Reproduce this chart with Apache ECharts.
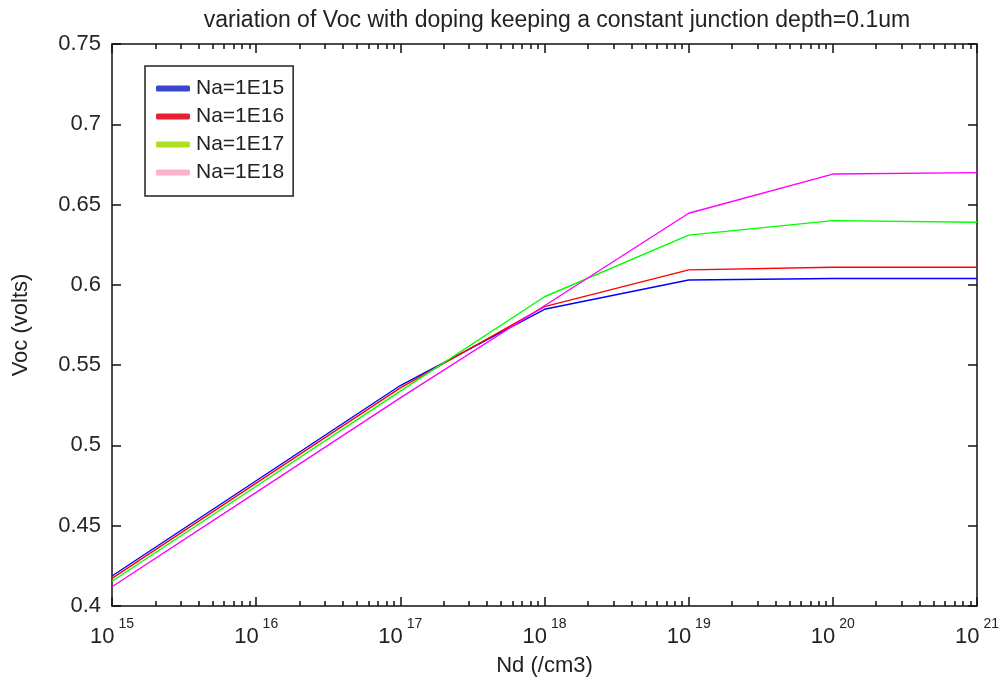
<!DOCTYPE html>
<html>
<head>
<meta charset="utf-8">
<script src="https://cdn.jsdelivr.net/npm/echarts@6/dist/echarts.min.js"></script>
<style>
html,body{margin:0;padding:0;background:#fff;}
#chart{width:1005px;height:679px;}
</style>
</head>
<body>
<div id="chart"></div>
<script>
// ---- data ----
const nd = [1e15, 1e16, 1e17, 1e18, 1e19, 1e20, 1e21];
const na1e15 = [0.4187, 0.4780, 0.5373, 0.5848, 0.6030, 0.6040, 0.6040];
const na1e16 = [0.4172, 0.4765, 0.5358, 0.5864, 0.6093, 0.6110, 0.6110];
const na1e17 = [0.4154, 0.4746, 0.5338, 0.5926, 0.6310, 0.6400, 0.6390];
const na1e18 = [0.4120, 0.4708, 0.5296, 0.5870, 0.6446, 0.6690, 0.6699];
const seriesNames = ['Na=1E15', 'Na=1E16', 'Na=1E17', 'Na=1E18'];
const xMajorTicks = [1e15, 1e16, 1e17, 1e18, 1e19, 1e20, 1e21];
const xTickExponents = ['15', '16', '17', '18', '19', '20', '21'];
const titleText = 'variation of Voc with doping keeping a constant junction depth=0.1um';
const xName = 'Nd (/cm3)';
const yName = 'Voc (volts)';

// minor log ticks (2..9 x 10^k)
const xMinorTicks = [];
for (let k = 15; k < 21; k++) for (let m = 2; m <= 9; m++) xMinorTicks.push(m * Math.pow(10, k));
// tick positions nudged inside the extent so the 1e21 end value is not dropped by rounding
const xMajorTickPos = xMajorTicks.map((v, i) => i === xMajorTicks.length - 1 ? v * 0.999999 : v);

const lineColors = ['#0000ff', '#ff0000', '#00ff00', '#ff00ff'];
const legendColors = ['#3a46cc', '#e82030', '#aee020', '#ffb0cc'];
const seriesValues = [na1e15, na1e16, na1e17, na1e18];

const chart = echarts.init(document.getElementById('chart'));
const FONT = '"Liberation Sans", Arial, sans-serif';
const axisColor = '#111';

function expIndex(v) {
  const lv = Math.log10(v);
  let best = 0;
  xMajorTicks.forEach((t, i) => { if (Math.abs(Math.log10(t) - lv) < Math.abs(Math.log10(xMajorTicks[best]) - lv)) best = i; });
  return best;
}

function xAxisDef(pos, ticks, len, showLabel, showLine) {
  return {
    type: 'log', logBase: 10, position: pos, min: 1e15, max: 1e21,
    axisLine: {show: showLine, lineStyle: {color: axisColor, width: 1.5}},
    axisTick: {show: true, inside: true, length: len, customValues: ticks, lineStyle: {color: axisColor, width: 1.5}},
    axisLabel: showLabel ? {
      show: true, customValues: xMajorTickPos, margin: 11, showMaxLabel: true, showMinLabel: true,
      formatter: function (v) {
        return '{b|10}{s|' + xTickExponents[expIndex(v)] + '}';
      },
      rich: {
        b: {fontSize: 22, fontFamily: FONT, color: '#222', verticalAlign: 'bottom'},
        s: {fontSize: 14, fontFamily: FONT, color: '#222', verticalAlign: 'bottom', padding: [0, 0, 17, 4]}
      }
    } : {show: false},
    splitLine: {show: false},
    minorTick: {show: false},
    name: showLabel && pos === 'bottom' ? xName : '',
    nameLocation: 'middle', nameGap: 49,
    nameTextStyle: {fontSize: 22, fontFamily: FONT, color: '#222'}
  };
}

function yAxisDef(pos, showLabel) {
  return {
    type: 'value', position: pos, min: 0.4, max: 0.75, interval: 0.05,
    axisLine: {show: true, lineStyle: {color: axisColor, width: 1.5}},
    axisTick: {show: true, inside: true, length: 9, lineStyle: {color: axisColor, width: 1.5}},
    axisLabel: showLabel ? {
      show: true, margin: 11, fontSize: 22, fontFamily: FONT, color: '#262626',
      formatter: function (v) { return String(+v.toFixed(2)); }
    } : {show: false},
    splitLine: {show: false},
    name: showLabel ? yName : '',
    nameLocation: 'middle', nameGap: 80, nameRotate: 90,
    nameTextStyle: {fontSize: 22, fontFamily: FONT, color: '#222'}
  };
}

chart.setOption({
  backgroundColor: '#fff',
  animation: false,
  title: {
    text: titleText, left: 552, top: 4, textAlign: 'center',
    textStyle: {fontSize: 23, fontWeight: 'normal', fontFamily: FONT, color: '#222'}
  },
  grid: {left: 112, right: 28, top: 44, bottom: 73, containLabel: false, outerBoundsMode: 'none'},
  legend: {
    orient: 'vertical', left: 145, top: 66,
    padding: [12, 9, 13, 11], itemGap: 7,
    borderColor: '#222', borderWidth: 1.5, backgroundColor: '#fff',
    icon: 'roundRect', itemWidth: 34, itemHeight: 6,
    textStyle: {fontSize: 21, fontFamily: FONT, color: '#222', lineHeight: 20, padding: [0, 0, 0, 1]},
    data: seriesNames.map((n, i) => ({name: n, itemStyle: {color: legendColors[i]}}))
  },
  xAxis: [
    xAxisDef('bottom', xMajorTickPos, 9, true, true),
    xAxisDef('bottom', xMinorTicks, 5, false, false),
    xAxisDef('top', xMajorTickPos, 9, false, true),
    xAxisDef('top', xMinorTicks, 5, false, false)
  ],
  yAxis: [yAxisDef('left', true), yAxisDef('right', false)],
  series: seriesNames.map((n, i) => ({
    name: n, type: 'line', xAxisIndex: 0, yAxisIndex: 0,
    data: nd.map((x, j) => [x, seriesValues[i][j]]),
    showSymbol: false, symbol: 'none',
    lineStyle: {color: lineColors[i], width: 1.4},
    itemStyle: {color: lineColors[i]}
  }))
});
</script>
</body>
</html>
